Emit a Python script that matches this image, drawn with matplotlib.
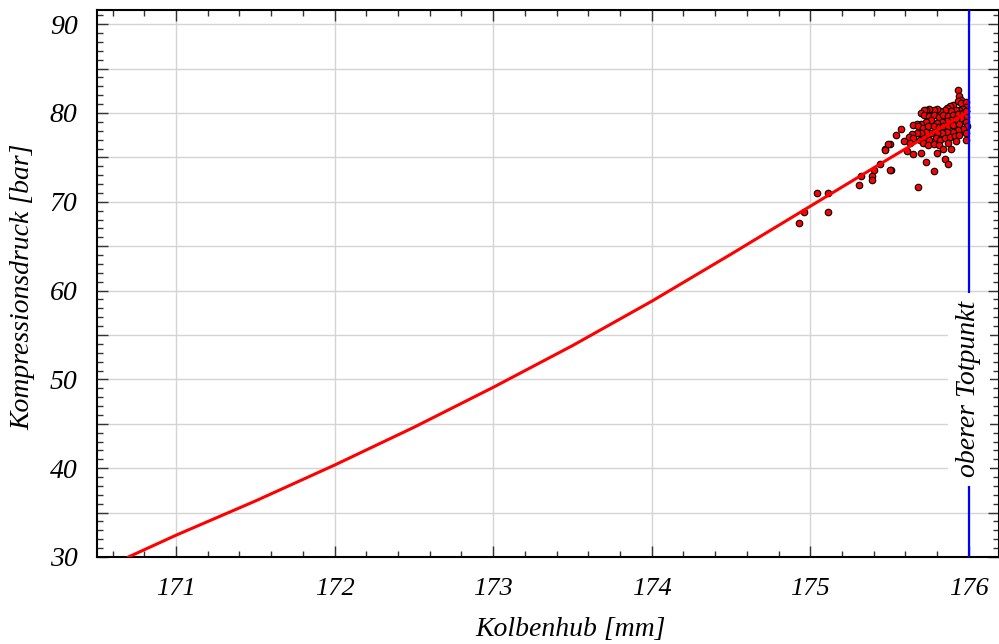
import numpy as np
import matplotlib
matplotlib.use("Agg")
import matplotlib.pyplot as plt
from matplotlib.ticker import MultipleLocator, FuncFormatter

# Ausgleichskurve
hub_kurve = [170.70, 171.00, 171.50, 172.00, 172.50, 173.00, 173.50,
             174.00, 174.50, 175.00, 175.50, 176.00]
druck_kurve = [30.0, 32.45, 36.3, 40.35, 44.6, 49.1, 53.8,
               58.8, 64.1, 69.5, 74.9, 80.2]

# Messpunkte
hub_mess = [
    175.93, 175.94, 175.95, 175.93, 175.90, 175.88, 175.86, 175.95, 175.98, 175.98,
    175.96, 175.94, 175.92, 175.89, 175.85, 175.82, 175.80, 175.78, 175.75, 175.73,
    175.72, 175.70, 175.72, 175.75, 175.78, 175.81, 175.84, 175.87, 175.90, 175.93,
    175.96, 175.98, 175.98, 175.95, 175.92, 175.89, 175.86, 175.83, 175.80, 175.76,
    175.73, 175.70, 175.67, 175.65, 175.68, 175.71, 175.74, 175.78, 175.81, 175.84,
    175.87, 175.90, 175.94, 175.98, 175.99, 175.96, 175.93, 175.90, 175.86, 175.83,
    175.80, 175.76, 175.73, 175.70, 175.67, 175.64, 175.62, 175.65, 175.69, 175.72,
    175.75, 175.79, 175.82, 175.85, 175.88, 175.91, 175.94, 175.98, 175.59, 175.63,
    175.71, 175.74, 175.78, 175.81, 175.84, 175.89, 175.87, 175.92, 175.98, 175.61,
    175.65, 175.70, 175.80, 175.85, 175.57, 175.54, 175.50, 175.47, 175.51, 175.73,
    175.78, 175.87, 175.68,
    174.93, 174.96, 175.04, 175.11, 175.11, 175.31, 175.32, 175.39, 175.39, 175.40,
    175.44, 175.47, 175.49, 175.50,
]
druck_mess = [
    82.6, 81.9, 81.5, 81.4, 80.9, 80.8, 80.6, 81.1, 81.2, 80.7,
    80.4, 80.3, 80.3, 80.2, 80.3, 80.2, 80.4, 80.3, 80.4, 80.3,
    80.3, 80.0, 79.8, 79.7, 79.8, 79.6, 79.8, 79.7, 79.8, 79.9,
    80.0, 80.2, 79.6, 79.4, 79.3, 79.2, 79.1, 79.0, 78.9, 79.2,
    79.0, 78.8, 78.8, 78.7, 78.5, 78.3, 78.5, 78.5, 78.4, 78.5,
    78.5, 78.7, 78.8, 79.0, 78.5, 78.2, 78.1, 77.9, 77.9, 77.8,
    77.7, 77.8, 77.9, 77.7, 77.8, 77.6, 77.3, 77.2, 77.0, 77.2,
    77.0, 77.2, 77.0, 77.2, 77.3, 77.4, 77.5, 77.7, 76.8, 76.6,
    76.6, 76.4, 76.5, 76.4, 76.0, 76.0, 76.6, 76.8, 77.0, 75.7,
    75.4, 75.5, 75.5, 74.8, 78.2, 77.5, 76.5, 75.9, 73.6, 74.5,
    73.5, 74.2, 71.7,
    67.6, 68.8, 71.0, 71.0, 68.9, 71.9, 72.9, 72.9, 72.5, 73.6,
    74.3, 75.8, 76.5, 73.6,
]

otp = 176.0


def main():
    plt.rcParams.update({
        "font.family": "Liberation Serif",
        "font.style": "italic",
        "font.size": 19,
    })

    fig = plt.figure(figsize=(9.99, 6.44), dpi=100)
    ax = fig.add_axes([0.0971, 0.1351, 0.9029, 0.8494])

    ax.scatter(hub_mess, druck_mess, s=22, c="red", edgecolors="black",
               linewidths=0.8, zorder=3)
    ax.plot(hub_kurve, druck_kurve, color="red", lw=2.2, zorder=4)

    ax.axvline(otp, color="blue", lw=1.6, zorder=5)
    ax.text(otp, 48.9, "oberer Totpunkt", rotation=90, ha="center", va="center",
            fontsize=20, zorder=6,
            bbox=dict(facecolor="white", edgecolor="none", pad=6))

    ax.set_xlim(170.502, 176.19)
    ax.set_ylim(30, 91.6)

    ax.xaxis.set_major_locator(MultipleLocator(1))
    ax.xaxis.set_minor_locator(MultipleLocator(0.2))
    ax.yaxis.set_major_locator(MultipleLocator(5))
    ax.yaxis.set_minor_locator(MultipleLocator(1))
    ax.yaxis.set_major_formatter(
        FuncFormatter(lambda v, p: f"{v:.0f}" if round(v) % 10 == 0 else ""))
    ax.xaxis.set_major_formatter(FuncFormatter(lambda v, p: f"{v:.0f}"))

    ax.tick_params(which="both", direction="in", top=True, right=True,
                   width=1, color="#333333")
    ax.tick_params(which="major", length=8)
    ax.tick_params(which="minor", length=4)
    ax.tick_params(axis="x", pad=15, labelsize=19)
    ax.tick_params(axis="y", pad=14, labelsize=20)

    ax.grid(which="major", color="#d4d4d4", lw=1)
    ax.set_axisbelow(True)
    for s in ax.spines.values():
        s.set_linewidth(1.5)

    fig.text(571 / 999, 1 - 630 / 644, "Kolbenhub [mm]", ha="center",
             va="center", fontsize=20)
    fig.text(23 / 999, 1 - 287 / 644, "Kompressionsdruck [bar]", ha="center",
             va="center", rotation=90, fontsize=20)

    fig.savefig("out.png", dpi=100)
    plt.close(fig)


if __name__ == "__main__":
    main()
